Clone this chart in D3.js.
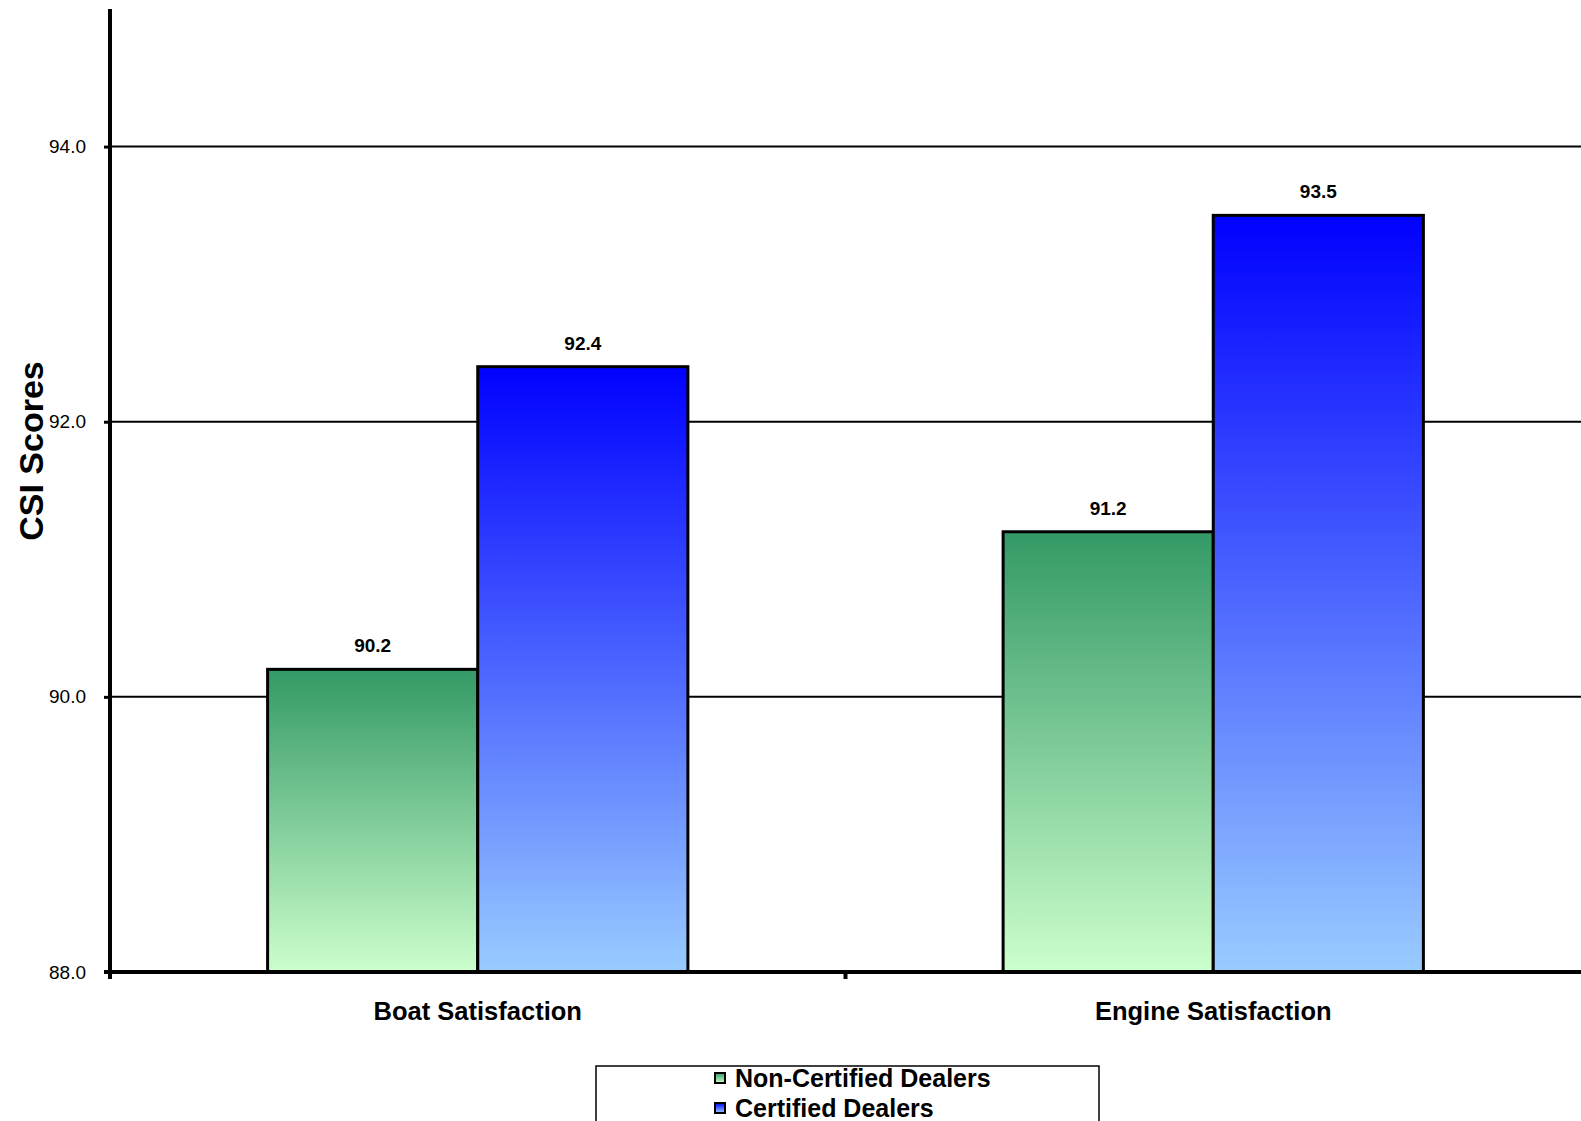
<!DOCTYPE html>
<html>
<head>
<meta charset="utf-8">
<script src="https://cdn.jsdelivr.net/npm/d3@7"></script>
<style>
  html, body { margin: 0; padding: 0; background: #fff; }
  svg { display: block; font-family: Arial, "Liberation Sans", sans-serif; }
</style>
</head>
<body>
<svg id="chart" width="1581" height="1121"></svg>
<script>
// CSI scores by dealer certification
const categories = ["Boat Satisfaction", "Engine Satisfaction"];
const seriesNames = ["Non-Certified Dealers", "Certified Dealers"];
const nonCertified = [90.2, 91.2];
const certified = [92.4, 93.5];
const yTicks = [88, 90, 92, 94];
const yTitle = "CSI Scores";

const seriesValues = [nonCertified, certified];
const gradients = [
  { id: "gradGreen", top: "#339966", bottom: "#ccffcc" },
  { id: "gradBlue", top: "#0000ff", bottom: "#99ccff" }
];

const svg = d3.select("#chart");
const W = 1581;
const plot = { left: 110, right: 1581, top: 9, bottom: 972 };

// vertical gradients for the bar fills
const defs = svg.append("defs");
gradients.forEach(g => {
  const lg = defs.append("linearGradient")
    .attr("id", g.id).attr("x1", 0).attr("y1", 0).attr("x2", 0).attr("y2", 1);
  lg.append("stop").attr("offset", "0%").attr("stop-color", g.top);
  lg.append("stop").attr("offset", "100%").attr("stop-color", g.bottom);
});

const y = d3.scaleLinear().domain([88, 95]).range([plot.bottom, plot.top]);
const x = d3.scaleBand().domain(categories).range([plot.left, plot.right])
  .paddingInner(0).paddingOuter(0);
const barW = x.bandwidth() / 3.5;
const xs = d3.scaleBand().domain(d3.range(seriesNames.length))
  .range([0, barW * seriesNames.length]);
const groupOffset = (x.bandwidth() - barW * seriesNames.length) / 2;

// horizontal gridlines
svg.append("g").selectAll("line")
  .data(yTicks.filter(t => t > 88))
  .join("line")
  .attr("x1", plot.left).attr("x2", W)
  .attr("y1", d => y(d)).attr("y2", d => y(d))
  .attr("stroke", "#000").attr("stroke-width", 2);

// bars
const barData = [];
categories.forEach((c, ci) => {
  seriesValues.forEach((vals, si) => barData.push({ c, si, v: vals[ci] }));
});

svg.append("g").selectAll("rect")
  .data(barData)
  .join("rect")
  .attr("x", d => x(d.c) + groupOffset + xs(d.si))
  .attr("y", d => y(d.v))
  .attr("width", barW)
  .attr("height", d => y(88) - y(d.v))
  .attr("fill", d => `url(#${gradients[d.si].id})`)
  .attr("stroke", "#000").attr("stroke-width", 3);

// value labels
svg.append("g").selectAll("text")
  .data(barData)
  .join("text")
  .attr("x", d => x(d.c) + groupOffset + xs(d.si) + barW / 2)
  .attr("y", d => y(d.v) - 17)
  .attr("text-anchor", "middle")
  .attr("font-size", 19).attr("font-weight", "bold")
  .text(d => d.v.toFixed(1));

// y axis
const yAxis = d3.axisLeft(y).tickValues(yTicks).tickSize(6).tickPadding(18)
  .tickFormat(d3.format(".1f"));
const gy = svg.append("g").attr("transform", `translate(${plot.left},0)`).call(yAxis);
gy.select(".domain").remove();
gy.selectAll(".tick line").attr("stroke", "#000").attr("stroke-width", 3);
gy.selectAll(".tick text").attr("font-size", 19).attr("fill", "#000")
  .attr("font-family", "Arial, 'Liberation Sans', sans-serif");
svg.append("line")
  .attr("x1", plot.left).attr("x2", plot.left)
  .attr("y1", plot.top).attr("y2", plot.bottom + 2)
  .attr("stroke", "#000").attr("stroke-width", 4);

// x axis baseline and category ticks
svg.append("line")
  .attr("x1", plot.left - 6).attr("x2", W)
  .attr("y1", plot.bottom).attr("y2", plot.bottom)
  .attr("stroke", "#000").attr("stroke-width", 4);
const xTickPos = categories.map(c => x(c)).concat([x(categories[categories.length - 1]) + x.bandwidth()]);
svg.append("g").selectAll("line")
  .data(xTickPos.filter(p => p < W))
  .join("line")
  .attr("x1", d => d).attr("x2", d => d)
  .attr("y1", plot.bottom).attr("y2", plot.bottom + 7)
  .attr("stroke", "#000").attr("stroke-width", 4);

// category labels
svg.append("g").selectAll("text")
  .data(categories)
  .join("text")
  .attr("x", d => x(d) + x.bandwidth() / 2)
  .attr("y", 1020)
  .attr("text-anchor", "middle")
  .attr("font-size", 25.5).attr("font-weight", "bold")
  .text(d => d);

// y axis title
svg.append("text")
  .attr("transform", "translate(43,451) rotate(-90)")
  .attr("text-anchor", "middle")
  .attr("font-size", 34).attr("font-weight", "bold")
  .text(yTitle);

// legend
const legend = svg.append("g");
legend.append("rect")
  .attr("x", 596).attr("y", 1066).attr("width", 503).attr("height", 80)
  .attr("fill", "#fff").attr("stroke", "#000").attr("stroke-width", 1.5);
const items = legend.selectAll("g.item")
  .data(seriesNames)
  .join("g").attr("class", "item")
  .attr("transform", (d, i) => `translate(715,${1078 + i * 30})`);
items.append("rect")
  .attr("x", 0).attr("y", -5).attr("width", 10).attr("height", 10)
  .attr("fill", (d, i) => `url(#${gradients[i].id})`)
  .attr("stroke", "#000").attr("stroke-width", 2);
items.append("text")
  .attr("x", 20).attr("y", 0).attr("dy", "0.36em")
  .attr("font-size", 25).attr("font-weight", "bold")
  .text(d => d);
</script>
</body>
</html>
